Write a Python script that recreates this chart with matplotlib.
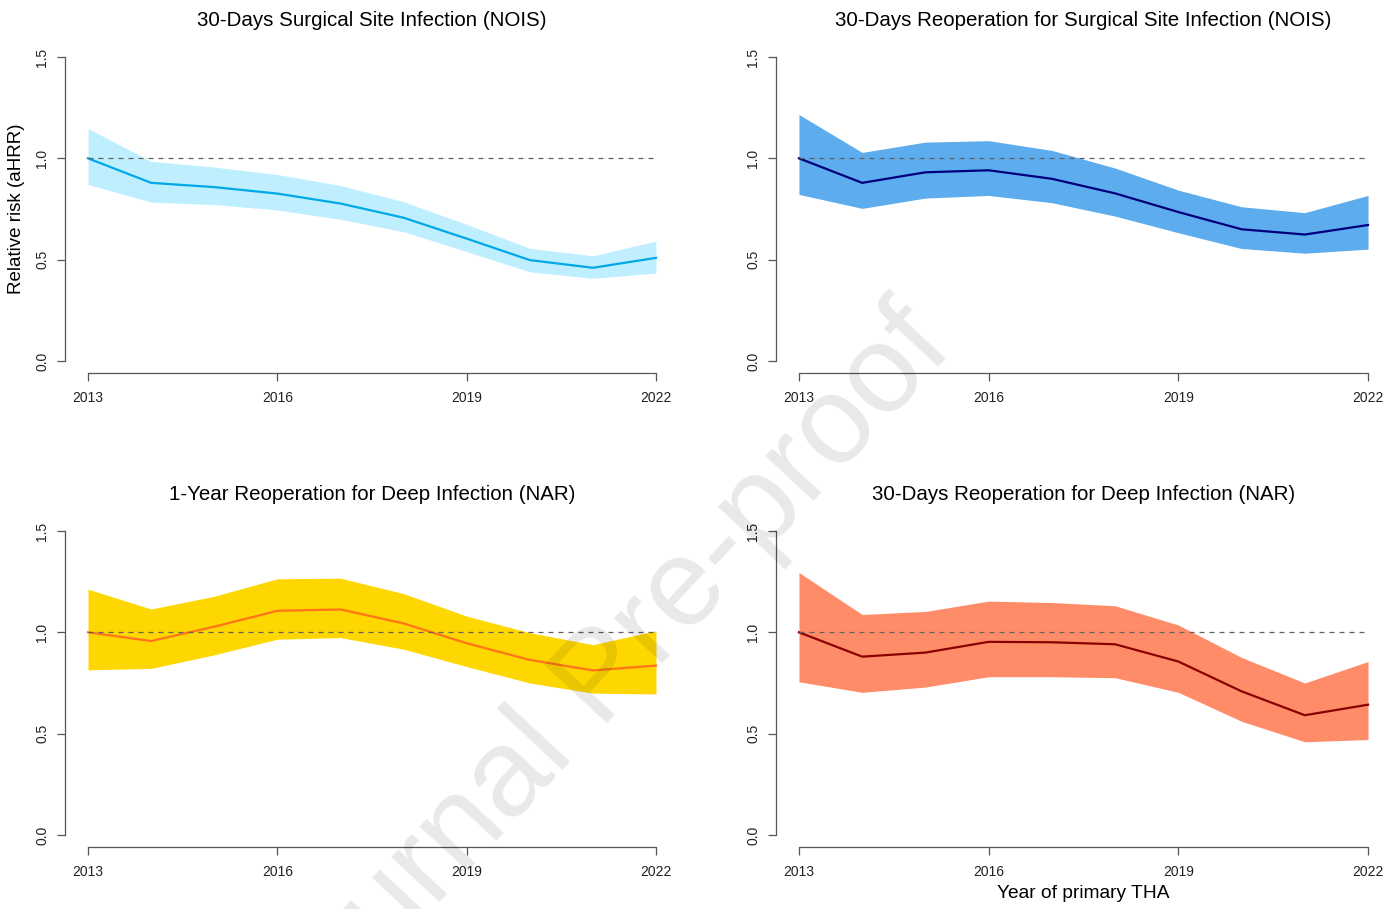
import matplotlib
matplotlib.use('Agg')
import matplotlib.pyplot as plt

plt.rcParams['font.family'] = ['Liberation Sans', 'DejaVu Sans']

years = [2013, 2014, 2015, 2016, 2017, 2018, 2019, 2020, 2021, 2022]
year_ticks = [2013, 2016, 2019, 2022]
rr_ticks = [0.0, 0.5, 1.0, 1.5]

# 30-day SSI, NOIS
ssi_nois = [1.0, 0.879, 0.858, 0.826, 0.777, 0.707, 0.604, 0.498, 0.46, 0.509]
ssi_nois_lo = [0.871, 0.784, 0.772, 0.745, 0.699, 0.638, 0.54, 0.44, 0.408, 0.434]
ssi_nois_hi = [1.147, 0.985, 0.957, 0.92, 0.866, 0.786, 0.674, 0.556, 0.519, 0.592]

# 30-day reoperation for SSI, NOIS
reop_nois = [1.0, 0.879, 0.931, 0.941, 0.899, 0.827, 0.735, 0.65, 0.624, 0.671]
reop_nois_lo = [0.822, 0.753, 0.804, 0.817, 0.781, 0.715, 0.633, 0.555, 0.532, 0.552]
reop_nois_hi = [1.216, 1.029, 1.08, 1.087, 1.039, 0.952, 0.843, 0.761, 0.732, 0.817]

# 1-year reoperation for deep infection, NAR
reop1y_nar = [1.0, 0.957, 1.028, 1.106, 1.113, 1.044, 0.946, 0.864, 0.812, 0.836]
reop1y_nar_lo = [0.815, 0.822, 0.889, 0.966, 0.974, 0.917, 0.831, 0.75, 0.70, 0.696]
reop1y_nar_hi = [1.213, 1.115, 1.178, 1.264, 1.267, 1.191, 1.08, 0.998, 0.939, 1.008]

# 30-day reoperation for deep infection, NAR
reop30_nar = [1.0, 0.88, 0.90, 0.953, 0.951, 0.941, 0.856, 0.709, 0.591, 0.643]
reop30_nar_lo = [0.756, 0.704, 0.73, 0.781, 0.781, 0.776, 0.704, 0.561, 0.46, 0.471]
reop30_nar_hi = [1.295, 1.088, 1.103, 1.154, 1.147, 1.131, 1.036, 0.876, 0.75, 0.856]

W, H = 1389, 909


def px_axes(left, right, top, bottom):
    return [left / W, 1 - bottom / H, (right - left) / W, (bottom - top) / H]


def draw_panel(ax, title, est, lo, hi, fill, line):
    ax.fill_between(years, lo, hi, color=fill, lw=0)
    ax.plot(years, est, color=line, lw=1.6)
    ax.plot([years[0], years[-1]], [1, 1], color='#606060', lw=0.9, ls=(0, (4, 4)))

    pad_x = 0.04 * (years[-1] - years[0])
    ax.set_xlim(years[0] - pad_x, years[-1] + pad_x)
    ax.set_ylim(-0.06, 1.56)
    for s in ['top', 'right']:
        ax.spines[s].set_visible(False)
    ax.spines['left'].set_bounds(0, 1.5)
    ax.spines['bottom'].set_bounds(years[0], years[-1])
    for s in ['left', 'bottom']:
        ax.spines[s].set_color('#555555')
        ax.spines[s].set_linewidth(0.9)

    ax.set_xticks(year_ticks)
    ax.set_yticks(rr_ticks)
    ax.set_yticklabels(['%.1f' % v for v in rr_ticks], rotation=90, va='center')
    ax.tick_params(axis='both', length=6, width=0.9, color='#555555',
                   labelsize=10, labelcolor='#222222')
    ax.tick_params(axis='x', pad=6.5)
    ax.tick_params(axis='y', pad=5.5)
    ax.set_title(title, fontsize=14.8, pad=13.5)


fig = plt.figure(figsize=(W / 100, H / 100), dpi=100)

ax1 = fig.add_axes(px_axes(65.3, 678.7, 44.8, 373.2))
ax2 = fig.add_axes(px_axes(776.2, 1390.8, 44.8, 373.2))
ax3 = fig.add_axes(px_axes(65.3, 678.7, 518.8, 847.2))
ax4 = fig.add_axes(px_axes(776.2, 1390.8, 518.8, 847.2))

draw_panel(ax1, '30-Days Surgical Site Infection (NOIS)',
           ssi_nois, ssi_nois_lo, ssi_nois_hi, '#BFEFFF', '#00A8E8')
draw_panel(ax2, '30-Days Reoperation for Surgical Site Infection (NOIS)',
           reop_nois, reop_nois_lo, reop_nois_hi, '#5CACEE', '#00007A')
draw_panel(ax3, '1-Year Reoperation for Deep Infection (NAR)',
           reop1y_nar, reop1y_nar_lo, reop1y_nar_hi, '#FFD700', '#FF7518')
draw_panel(ax4, '30-Days Reoperation for Deep Infection (NAR)',
           reop30_nar, reop30_nar_lo, reop30_nar_hi, '#FF8C69', '#8B0000')

ax1.set_ylabel('Relative risk (aHRR)', fontsize=13.5)
ax1.yaxis.set_label_coords(-0.079, 0.5)
ax1.yaxis.label.set_va('center')

ax4.set_xlabel('Year of primary THA', fontsize=13.8)
ax4.xaxis.set_label_coords(0.5, -0.142)
ax4.xaxis.label.set_va('center')

# watermark (cut off at the bottom edge, as in the source)
fig.text(603 / W, 1 - 680 / H, 'Journal Pre-proof', fontsize=90, color='black',
         alpha=0.09, rotation=47, ha='center', va='center', rotation_mode='anchor')

fig.savefig('out.png', dpi=100)
